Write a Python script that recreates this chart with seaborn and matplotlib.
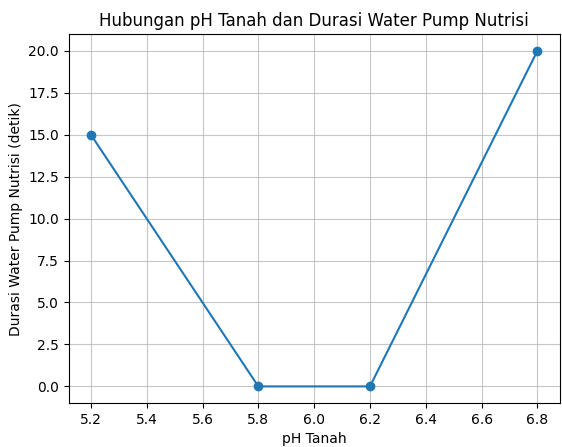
import matplotlib
matplotlib.use("Agg")
import matplotlib.pyplot as plt
import pandas as pd
import seaborn as sns

# data
ph_tanah = [5.2, 5.8, 6.2, 6.8]
durasi_pompa = [15, 0, 0, 20]
x_ticks = [5.2, 5.4, 5.6, 5.8, 6.0, 6.2, 6.4, 6.6, 6.8]
y_ticks = [0, 2.5, 5, 7.5, 10, 12.5, 15, 17.5, 20]

df = pd.DataFrame({"ph": ph_tanah, "durasi": durasi_pompa})

fig, ax = plt.subplots(figsize=(5.62, 4.47), dpi=100)
fig.subplots_adjust(left=0.122, right=0.996, top=0.924, bottom=0.098)

sns.lineplot(data=df, x="ph", y="durasi", marker="o", markersize=6,
             markeredgewidth=1, markeredgecolor="#1f77b4",
             color="#1f77b4", ax=ax)

ax.set_xticks(x_ticks)
ax.set_yticks(y_ticks)
ax.set_yticklabels([f"{v:.1f}" for v in y_ticks])
ax.grid(True, color="#b0b0b0", linewidth=0.8, alpha=0.7)
ax.set_axisbelow(True)
ax.set_title("Hubungan pH Tanah dan Durasi Water Pump Nutrisi")
ax.set_xlabel("pH Tanah")
ax.set_ylabel("Durasi Water Pump Nutrisi (detik)")

fig.savefig("out.png", dpi=100)
